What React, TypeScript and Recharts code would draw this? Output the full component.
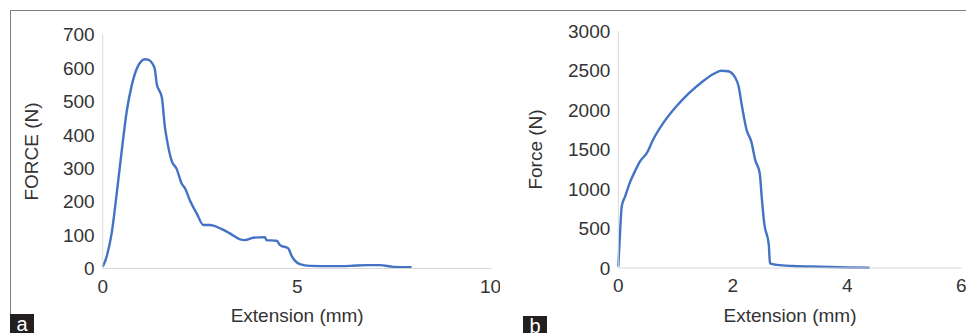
import { LineChart, Line, XAxis, YAxis } from "recharts";

// panel a: extension (mm) vs FORCE (N)
const extA = [0, 0.1, 0.23, 0.36, 0.49, 0.62, 0.745, 0.87, 1.0, 1.08, 1.18, 1.26, 1.34, 1.39, 1.52, 1.6, 1.64, 1.77, 1.9, 2.03, 2.12, 2.24, 2.42, 2.59, 2.76, 3.02, 3.27, 3.53, 3.66, 3.87, 4.17, 4.21, 4.47, 4.56, 4.77, 4.86, 5.07, 5.33, 5.93, 6.36, 6.79, 7.13, 7.47, 7.94];
const forceA = [5, 35, 105, 224, 353, 472, 547, 596, 621, 626, 624, 616, 596, 552, 512, 422, 393, 323, 298, 254, 239, 204, 164, 130, 130, 120, 105, 87, 85, 92, 94, 85, 83, 70, 60, 37, 13, 8, 7, 8, 10, 10, 5, 4];

// panel b: extension (mm) vs Force (N)
const extB = [0, 0.03, 0.06, 0.12, 0.2, 0.29, 0.38, 0.5, 0.61, 0.79, 1.02, 1.25, 1.49, 1.66, 1.8, 1.92, 2.04, 2.1, 2.16, 2.24, 2.33, 2.39, 2.47, 2.51, 2.55, 2.63, 2.65, 2.77, 3.06, 3.53, 4.0, 4.39];
const forceB = [17, 443, 780, 908, 1078, 1223, 1350, 1457, 1627, 1840, 2051, 2222, 2370, 2455, 2497, 2490, 2413, 2306, 2051, 1754, 1584, 1372, 1202, 862, 565, 289, 59, 40, 25, 16, 7, 4];

const ticksXA = [0, 5, 10];
const ticksYA = [0, 100, 200, 300, 400, 500, 600, 700];
const ticksXB = [0, 2, 4, 6];
const ticksYB = [0, 500, 1000, 1500, 2000, 2500, 3000];

const dataA = extA.map((x, i) => ({ x, y: forceA[i] }));
const dataB = extB.map((x, i) => ({ x, y: forceB[i] }));

const FONT = "'Liberation Sans', Arial, sans-serif";
const TEXT = "#333333";
const AXIS = "#d9d9d9";
const BLUE = "#4472C4";
const tick = { fill: TEXT, fontSize: 19, fontFamily: FONT };
const labelStyle = { fill: TEXT, fontSize: 19, fontFamily: FONT, textAnchor: "middle" as const };

const Tag = ({ left, top, ch }: { left: number; top: number; ch: string }) => (
  <div style={{ position: "absolute", left, top, width: 24, height: 333 - top, background: "#231f20", color: "#fff",
    fontFamily: FONT, fontSize: 20, lineHeight: "20px", textAlign: "center" }}>{ch}</div>
);

export default function App() {
  return (
    <div style={{ position: "absolute", left: 0, top: 0, width: 966, height: 333, background: "#fff", overflow: "hidden" }}>
      <div style={{ position: "absolute", left: 10, top: 10, width: 956, height: 323,
        borderTop: "1.5px solid #7f7f7f", borderLeft: "1.5px solid #7f7f7f" }} />

      <div style={{ position: "absolute", left: 0, top: 0 }}>
        <LineChart width={500} height={333} data={dataA}
          margin={{ top: 34.5, right: 8.3, bottom: 0, left: 10 }}>
          <XAxis type="number" dataKey="x" domain={[0, 10]} ticks={ticksXA} height={64.5}
            axisLine={{ stroke: AXIS }} tickLine={false} tick={tick} tickMargin={5}
            label={{ value: "Extension (mm)", position: "insideBottom", offset: 11.3, style: labelStyle }} />
          <YAxis type="number" domain={[0, 700]} ticks={ticksYA} width={92.7}
            axisLine={{ stroke: AXIS }} tickLine={false} tick={tick}
            label={{ value: "FORCE (N)", angle: -90, position: "insideLeft", offset: 21.7, style: labelStyle }} />
          <Line type="monotone" dataKey="y" stroke={BLUE} strokeWidth={2.4} dot={false} isAnimationActive={false} />
        </LineChart>
      </div>

      <div style={{ position: "absolute", left: 500, top: 0 }}>
        <LineChart width={466} height={333} data={dataB}
          margin={{ top: 31, right: 4.3, bottom: 0, left: 10 }}>
          <XAxis type="number" dataKey="x" domain={[0, 6]} ticks={ticksXB} height={65}
            axisLine={{ stroke: AXIS }} tickLine={false} tick={tick} tickMargin={5}
            label={{ value: "Extension (mm)", position: "insideBottom", offset: 11.3, style: labelStyle }} />
          <YAxis type="number" domain={[0, 3000]} ticks={ticksYB} width={108.3}
            axisLine={{ stroke: AXIS }} tickLine={false} tick={tick}
            label={{ value: "Force (N)", angle: -90, position: "insideLeft", offset: 25, style: labelStyle }} />
          <Line type="monotone" dataKey="y" stroke={BLUE} strokeWidth={2.4} dot={false} isAnimationActive={false} />
        </LineChart>
      </div>

      <Tag left={10} top={314} ch="a" />
      <Tag left={523} top={316} ch="b" />
    </div>
  );
}
